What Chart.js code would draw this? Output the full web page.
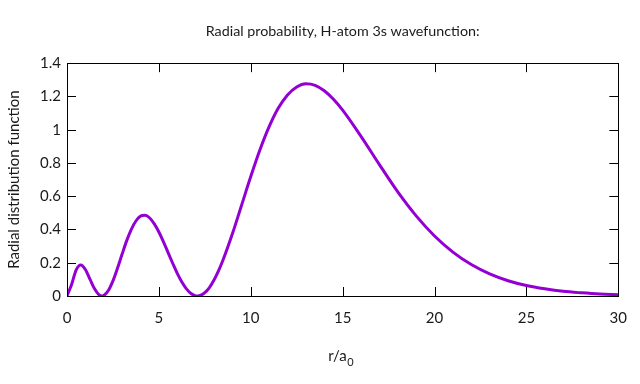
<!DOCTYPE html>
<html>
<head>
<meta charset="utf-8">
<script src="https://cdn.jsdelivr.net/npm/chart.js@4"></script>
<style>
  html, body { margin: 0; padding: 0; background: #fff; }
  #wrap { width: 640px; height: 384px; }
</style>
</head>
<body>
<div id="wrap"><canvas id="radialChart" width="640" height="384"></canvas></div>
<script>
// r / a0 sample positions
var rValues = [0, 0.25, 0.5, 0.75, 1, 1.25, 1.5, 1.75, 1.9, 2, 2.25, 2.5, 2.75, 3, 3.25, 3.5, 3.75,
  4, 4.25, 4.5, 4.75, 5, 5.25, 5.5, 5.75, 6, 6.25, 6.5, 6.75, 7, 7.1, 7.25, 7.5, 7.75, 8, 8.25,
  8.5, 9, 9.5, 10, 10.5, 11, 11.5, 12, 12.5, 13, 13.5, 14, 14.5, 15, 16, 17, 18, 19, 20,
  21, 22, 23, 24, 25, 26, 27, 28, 29, 30];
// radial distribution function at each r
var probValues = [0, 0.069, 0.157, 0.186, 0.159, 0.101, 0.043, 0.006, 0, 0.003, 0.033, 0.091, 0.168, 0.252, 0.333, 0.401, 0.451,
  0.480, 0.485, 0.469, 0.434, 0.385, 0.326, 0.261, 0.197, 0.136, 0.084, 0.043, 0.015, 0.001, 0, 0.003, 0.020, 0.051, 0.096, 0.152,
  0.219, 0.374, 0.546, 0.718, 0.879, 1.018, 1.130, 1.209, 1.257, 1.276, 1.267, 1.234, 1.183, 1.118, 0.960, 0.790, 0.626, 0.482, 0.361,
  0.264, 0.189, 0.133, 0.092, 0.063, 0.043, 0.028, 0.019, 0.012, 0.008];
var xTicks = [0, 5, 10, 15, 20, 25, 30];
var yTicks = [0, 0.2, 0.4, 0.6, 0.8, 1, 1.2, 1.4];

var fontFamily = 'Lato, "Noto Sans", sans-serif';
var textColor = '#1a1a1a';

var points = rValues.map(function (r, i) { return { x: r, y: probValues[i] }; });

// gnuplot-like frame with inward tick marks on all four sides, plus the r/a0 label
var frameTicks = {
  id: 'frameTicks',
  afterDatasetsDraw: function (chart) {
    var ctx = chart.ctx, a = chart.chartArea;
    var xs = chart.scales.x, ys = chart.scales.y;
    var len = 9;
    ctx.save();
    ctx.strokeStyle = '#000';
    ctx.lineWidth = 1;
    ctx.strokeRect(Math.round(a.left) + 0.5, Math.round(a.top) + 0.5,
      Math.round(a.right - a.left), Math.round(a.bottom - a.top));
    ctx.beginPath();
    xTicks.forEach(function (v) {
      var px = Math.round(xs.getPixelForValue(v)) + 0.5;
      ctx.moveTo(px, a.bottom); ctx.lineTo(px, a.bottom - len);
      ctx.moveTo(px, a.top); ctx.lineTo(px, a.top + len);
    });
    yTicks.forEach(function (v) {
      var py = Math.round(ys.getPixelForValue(v)) + 0.5;
      ctx.moveTo(a.left, py); ctx.lineTo(a.left + len, py);
      ctx.moveTo(a.right, py); ctx.lineTo(a.right - len, py);
    });
    ctx.stroke();

    // x axis title with a real subscript
    var main = 'r/a', sub = '0';
    var mainFont = '15px ' + fontFamily, subFont = '11px ' + fontFamily;
    ctx.font = mainFont;
    var w1 = ctx.measureText(main).width;
    ctx.font = subFont;
    var w2 = ctx.measureText(sub).width;
    var x0 = (a.left + a.right) / 2 - (w1 + w2) / 2 - 2;
    var baseY = 361;
    ctx.fillStyle = textColor;
    ctx.textBaseline = 'alphabetic';
    ctx.textAlign = 'left';
    ctx.font = mainFont;
    ctx.fillText(main, x0, baseY);
    ctx.font = subFont;
    ctx.fillText(sub, x0 + w1 + 0.5, baseY + 5);
    ctx.restore();
  }
};

var ctx = document.getElementById('radialChart').getContext('2d');
var radialChart = new Chart(ctx, {
  type: 'scatter',
  data: {
    datasets: [{
      label: '3s',
      data: points,
      showLine: true,
      borderColor: '#9400d3',
      backgroundColor: '#9400d3',
      borderWidth: 3,
      pointRadius: 0,
      cubicInterpolationMode: 'monotone'
    }]
  },
  plugins: [frameTicks],
  options: {
    responsive: false,
    animation: false,
    layout: { padding: { left: 0, right: 19, top: 0, bottom: 0 } },
    plugins: {
      legend: { display: false },
      tooltip: { enabled: false },
      title: {
        display: true,
        fullSize: false,
        text: 'Radial probability, H-atom 3s wavefunction:',
        color: textColor,
        font: { family: fontFamily, size: 14.3, weight: 'normal' },
        padding: { top: 23, bottom: 23 }
      }
    },
    scales: {
      x: {
        type: 'linear',
        min: 0,
        max: 30,
        afterBuildTicks: function (scale) { scale.ticks = xTicks.map(function (v) { return { value: v }; }); },
        afterFit: function (scale) { scale.height = 88; },
        grid: { display: false, drawTicks: false },
        border: { display: false },
        ticks: { color: textColor, padding: 13, maxRotation: 0, font: { family: fontFamily, size: 15 } },
        title: { display: false }
      },
      y: {
        type: 'linear',
        min: 0,
        max: 1.4,
        afterBuildTicks: function (scale) { scale.ticks = yTicks.map(function (v) { return { value: v }; }); },
        afterFit: function (scale) { scale.width = 67; },
        grid: { display: false, drawTicks: false },
        border: { display: false },
        ticks: {
          color: textColor, padding: 6, font: { family: fontFamily, size: 15 },
          callback: function (v) { return String(parseFloat(v.toFixed(1))); }
        },
        title: {
          display: true,
          text: 'Radial distribution function',
          color: textColor,
          font: { family: fontFamily, size: 15 },
          padding: { top: 5, bottom: 0 }
        }
      }
    }
  }
});
</script>
</body>
</html>
